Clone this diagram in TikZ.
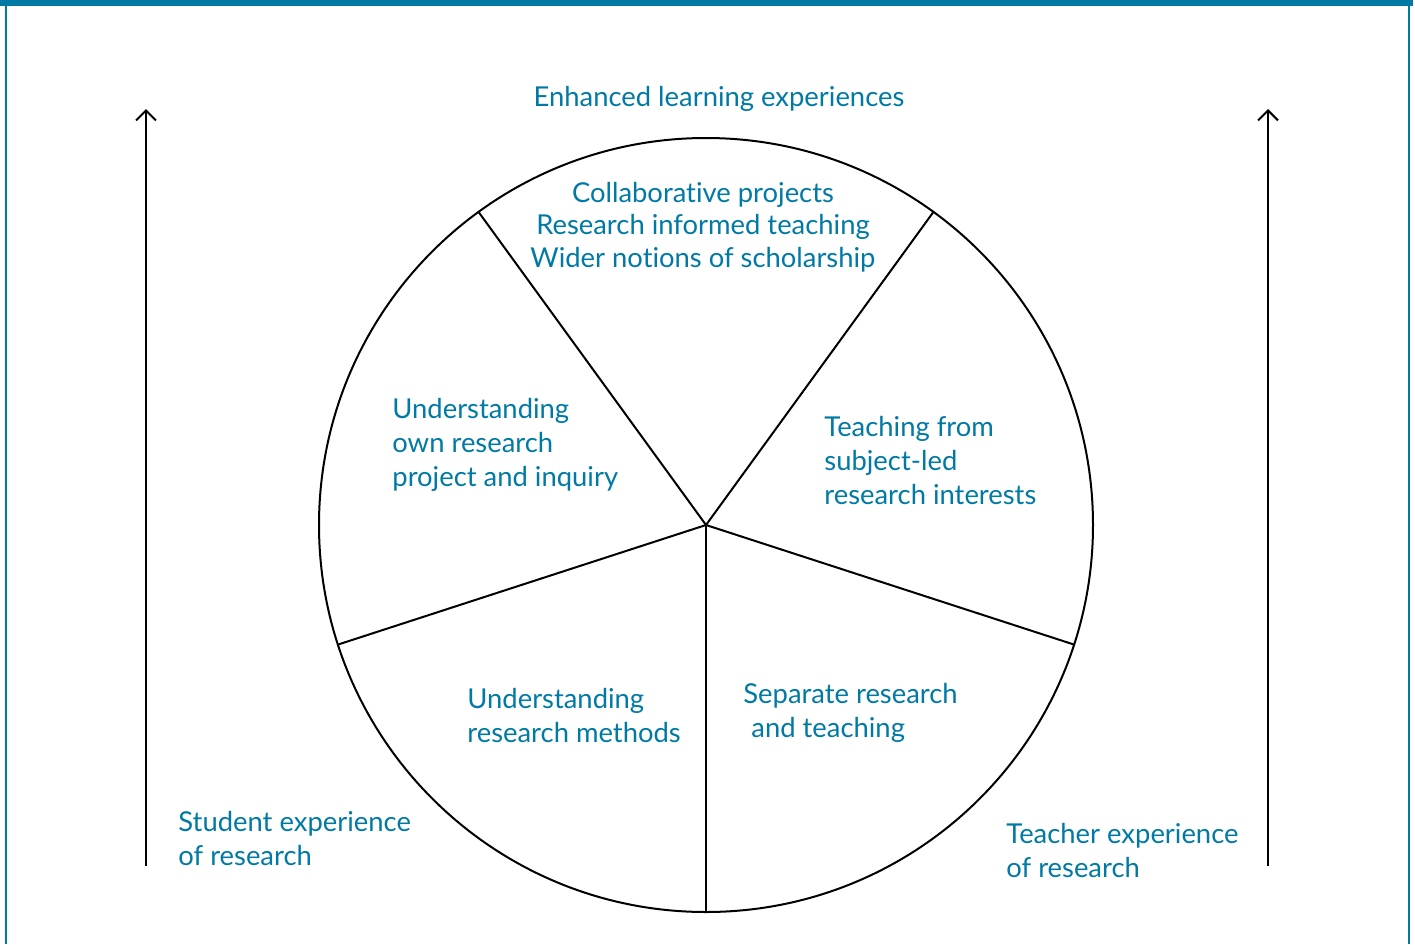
\documentclass[tikz,border=0pt]{standalone}
\usepackage{fontspec}
\setmainfont{Lato}[Ligatures=NoCommon]
\usetikzlibrary{arrows.meta}
\definecolor{teal}{RGB}{0,122,165}

\begin{document}
\begin{tikzpicture}[
        x=0.5pt, y=-0.5pt,
        font=\fontsize{13.7}{17}\selectfont,
        caption/.style={text=teal, align=left, inner sep=0pt, anchor=west},
        spoke/.style={line width=1pt, draw=black},
        axis/.style={-{Straight Barb[length=5pt,width=10pt]}, line width=1pt},
    ]
    \useasboundingbox (0,0) rectangle (1415,944);

    % frame
    \fill[teal] (0,0) rectangle (1413,6);
    \draw[teal, line width=1pt] (6,0) -- (6,944);
    \draw[teal, line width=1pt] (1409,0) -- (1409,944);

    % wheel
    \node[circle, draw, line width=1pt, minimum size=387pt, inner sep=0pt, outer sep=0pt] (wheel) at (706,525) {};
    \foreach \a in {54,126,198,270,342} {
            \draw[spoke] (wheel.center) -- (wheel.\a);
        }

    % axes
    \coordinate (sbot) at (146,866);
    \coordinate (stop) at (146,109);
    \coordinate (tbot) at (1268,866);
    \coordinate (ttop) at (1268,109);
    \draw[axis] (sbot) -- (stop);
    \draw[axis] (tbot) -- (ttop);

    % segment texts
    \node[caption, anchor=center] (enhanced) at (719,99) {Enhanced learning experiences};
    \node[caption, anchor=center, align=center, font=\fontsize{13.7}{16.25}\selectfont] (collab) at (703,227) {Collaborative projects\\Research informed teaching\\Wider notions of scholarship};
    \node[caption] (own) at (392,445) {Understanding\\own research\\project and inquiry};
    \node[caption] (subject) at (824,461) {Teaching from\\subject-led\\research interests};
    \node[caption] (methods) at (467,716) {Understanding\\research methods};
    \node[caption] (separate) at (743,713) {Separate research\\\hspace{4pt}and teaching};

    % axis labels
    \node[caption] (student) at (178,839) {Student experience\\of research};
    \node[caption] (teacher) at (1006,851) {Teacher experience\\of research};

\end{tikzpicture}
\end{document}
